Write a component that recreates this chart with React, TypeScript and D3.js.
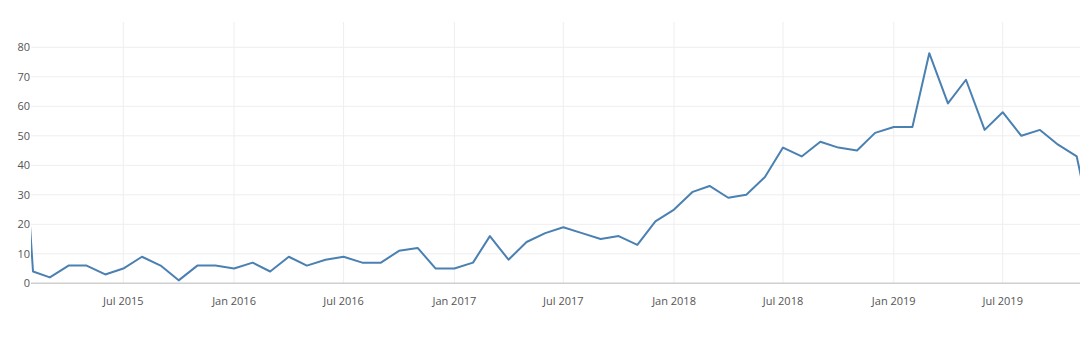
import React from "react";
import * as d3 from "d3";

const months: string[] = [
  "2015-01","2015-02","2015-03","2015-04","2015-05","2015-06","2015-07","2015-08","2015-09","2015-10","2015-11","2015-12",
  "2016-01","2016-02","2016-03","2016-04","2016-05","2016-06","2016-07","2016-08","2016-09","2016-10","2016-11","2016-12",
  "2017-01","2017-02","2017-03","2017-04","2017-05","2017-06","2017-07","2017-08","2017-09","2017-10","2017-11","2017-12",
  "2018-01","2018-02","2018-03","2018-04","2018-05","2018-06","2018-07","2018-08","2018-09","2018-10","2018-11","2018-12",
  "2019-01","2019-02","2019-03","2019-04","2019-05","2019-06","2019-07","2019-08","2019-09","2019-10","2019-11","2019-12",
];

const values: number[] = [
  100, 4, 2, 6, 6, 3, 5, 9, 6, 1, 6, 6,
  5, 7, 4, 9, 6, 8, 9, 7, 7, 11, 12, 5,
  5, 7, 16, 8, 14, 17, 19, 17, 15, 16, 13, 21,
  25, 31, 33, 29, 30, 36, 46, 43, 48, 46, 45, 51,
  53, 53, 78, 61, 69, 52, 58, 50, 52, 47, 43, 14,
];

const xTickLabels: string[] = [
  "Jul 2015", "Jan 2016", "Jul 2016", "Jan 2017", "Jul 2017",
  "Jan 2018", "Jul 2018", "Jan 2019", "Jul 2019",
];

const yTicks: number[] = [0, 10, 20, 30, 40, 50, 60, 70, 80];

const W = 1080;
const H = 338;
const plotLeft = 31;
const plotRight = 1080;
const plotTop = 22;
const plotBottom = 283.3;

const parseMonth = d3.timeParse("%Y-%m");
const parseTick = d3.timeParse("%b %Y");

export default function App() {
  const data = months.map((m, i) => ({ date: parseMonth(m) as Date, value: values[i] }));

  const x = d3
    .scaleTime()
    .domain([new Date(2015, 6, 1), new Date(2019, 6, 1)])
    .range([123.3, 1002.7]);
  const y = d3.scaleLinear().domain([0, 80]).range([plotBottom, 47.3]);

  const line = d3
    .line<{ date: Date; value: number }>()
    .x((d) => x(d.date))
    .y((d) => y(d.value));

  const tickDates = xTickLabels.map((t) => parseTick(t) as Date);
  const font = "'Open Sans', sans-serif";

  return (
    <div style={{ position: "fixed", left: 0, top: 0, width: W, height: H, background: "#fff" }}>
      <svg width={W} height={H} style={{ display: "block" }}>
        <defs>
          <clipPath id="plotclip">
            <rect x={plotLeft} y={plotTop} width={plotRight - plotLeft} height={plotBottom - plotTop + 2} />
          </clipPath>
        </defs>
        {/* vertical grid */}
        {tickDates.map((d, i) => (
          <line
            key={"vg" + i}
            x1={x(d)}
            x2={x(d)}
            y1={plotTop}
            y2={plotBottom}
            stroke="#eeeeee"
            strokeWidth={1}
          />
        ))}
        {/* horizontal grid */}
        {yTicks.filter((t) => t !== 0).map((t) => (
          <line
            key={"hg" + t}
            x1={plotLeft}
            x2={plotRight}
            y1={y(t)}
            y2={y(t)}
            stroke="#eeeeee"
            strokeWidth={1}
          />
        ))}
        {/* zero line */}
        <line x1={plotLeft} x2={plotRight} y1={y(0)} y2={y(0)} stroke="#cfcfcf" strokeWidth={1.5} />
        {/* y tick labels */}
        {yTicks.map((t) => (
          <text
            key={"yl" + t}
            x={30}
            y={y(t)}
            dy="0.35em"
            textAnchor="end"
            fontFamily={font}
            fontSize={11}
            fill="#555"
          >
            {t}
          </text>
        ))}
        {/* x tick labels */}
        {tickDates.map((d, i) => (
          <text
            key={"xl" + i}
            x={x(d)}
            y={305}
            textAnchor="middle"
            fontFamily={font}
            fontSize={11}
            fill="#555"
          >
            {xTickLabels[i]}
          </text>
        ))}
        <g clipPath="url(#plotclip)">
          <path d={line(data) || ""} fill="none" stroke="#4a80b2" strokeWidth={2} strokeLinejoin="round" />
        </g>
      </svg>
    </div>
  );
}
